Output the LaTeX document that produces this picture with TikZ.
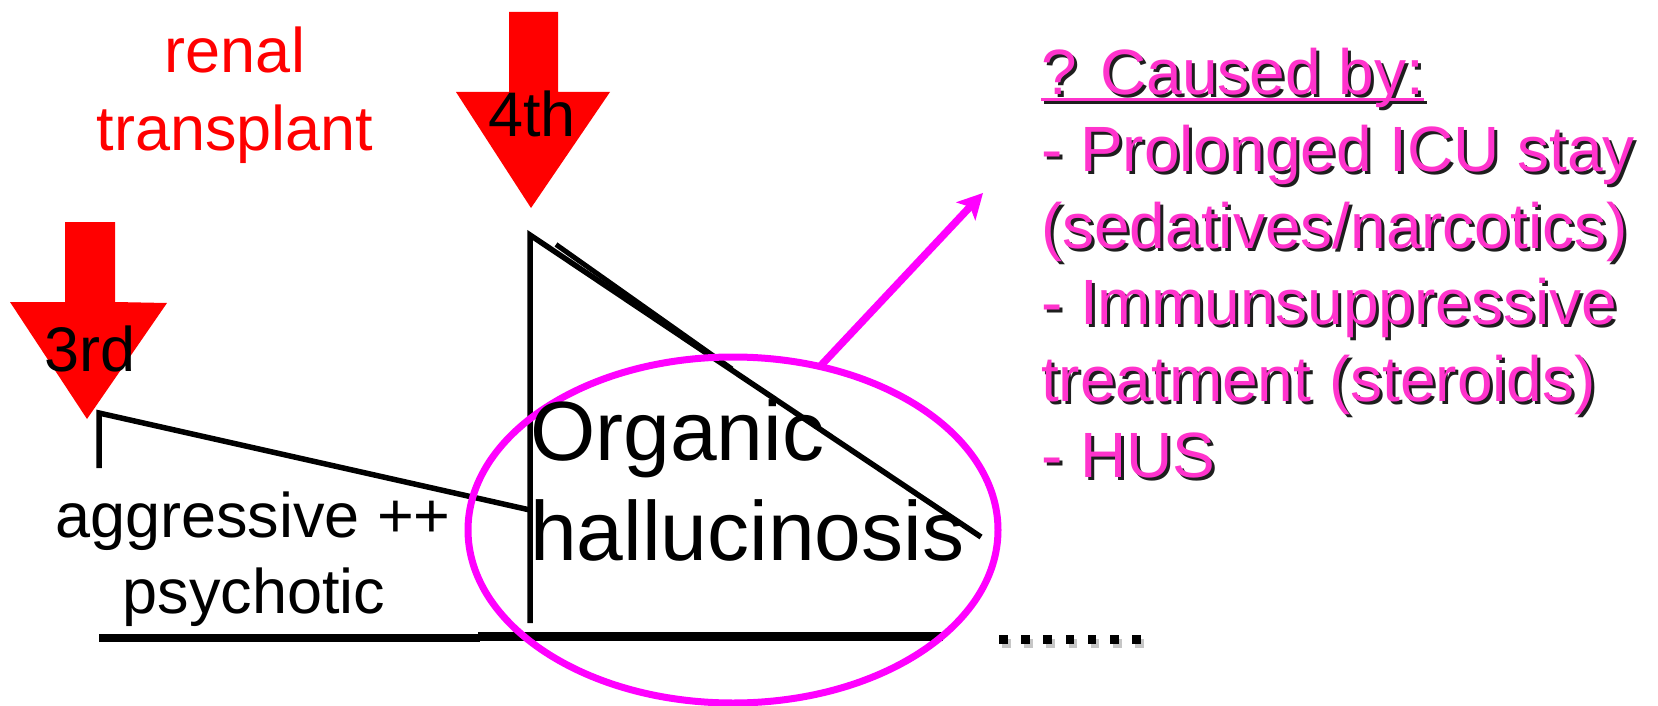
\documentclass[tikz,border=0pt]{standalone}
\usepackage{fontspec}
\setmainfont{Liberation Sans}
\usetikzlibrary{arrows.meta,shapes.geometric}
\definecolor{redA}{RGB}{255,0,0}
\definecolor{magA}{RGB}{255,0,255}
\definecolor{pinkT}{RGB}{255,51,204}
\definecolor{shadowT}{RGB}{30,30,30}
\newcommand\mkul[1]{\setbox0\hbox{#1}\rlap{\rule[-6pt]{\wd0}{3pt}}\box0}
\begin{document}
\begin{tikzpicture}[x=1pt,y=-1pt,
  lbl/.style={inner sep=0pt, outer sep=0pt, font=\fontsize{63}{76}\selectfont},
  rlbl/.style={inner sep=0pt, outer sep=0pt, font=\fontsize{64}{76}\selectfont},
  bigtext/.style={inner sep=0pt, outer sep=0pt, font=\fontsize{84}{102}\selectfont, anchor=base west},
  thinline/.style={line width=5.5pt, black, line join=miter},
  thickline/.style={line width=8.5pt, black},
  blockarrow/.style={fill=redA, draw=none},
  cause/.style={rlbl, anchor=base west, text=pinkT},
  causeshadow/.style={rlbl, anchor=base west, text=shadowT},
]
\useasboundingbox (0,0) rectangle (1658,706);
\fill[white] (0,0) rectangle (1658,706);

% red block arrows
\fill[blockarrow] (509,12) -- (558,12) -- (558,92) -- (610,92) -- (531,208) -- (456,92) -- (509,92) -- cycle;
\fill[blockarrow] (65,222) -- (115,222) -- (115,302) -- (167,303) -- (87,419) -- (10,302) -- (65,302) -- cycle;

% labels on arrows
\node[lbl, anchor=base] (fourth) at (532,137) {4th};
\node[lbl, anchor=base] (third) at (90,371) {3rd};

% renal transplant
\node[lbl, anchor=base, text=redA] (renal) at (235,73) {renal};
\node[lbl, anchor=base, text=redA] (transplant) at (235,151) {transplant};

% course lines
\coordinate (a0) at (99,468);
\coordinate (a1) at (99,413);
\coordinate (b0) at (530,623);
\coordinate (b1) at (530,235);
\coordinate (b2) at (981,537);
\draw[thinline] (a0) -- (a1) -- (530,510);
\draw[thinline] (b0) -- (b1) -- (b2);
\draw[line width=5pt, black] (556,244.5) -- (732,369);

% baseline
\draw[thickline] (99,638) -- (480,638);
\draw[thickline] (478,636.5) -- (943,636.5);

% dots
\foreach \i in {0,...,6} {
  \fill[gray!45] (1002+22.2*\i,639) rectangle +(8.5,8.5);
  \fill[black] (999+22.2*\i,635) rectangle +(8.5,8.5);
}

% aggressive psychotic
\node[lbl, anchor=base] (aggr) at (253,537) {aggressive ++};
\node[lbl, anchor=base] (psych) at (254,613) {psychotic};

% ellipse
\node[draw=magA, line width=7pt, ellipse, minimum width=530pt, minimum height=346pt, inner sep=0pt, outer sep=0pt] (oval) at (733,530) {};

% organic hallucinosis
\node[bigtext] (organic) at (530,460) {Organic};
\node[bigtext] (halluc) at (530,560) {hallucinosis};

% magenta arrow
\coordinate (tipc) at (983,193);
\draw[magA, line width=7.5pt, -{Stealth[length=25pt,width=26pt,inset=6pt]}] (oval.62) -- (tipc);

% caused by text with shadow
\node[causeshadow] (c1s) at (1044,98) {\mkul{? Caused by:}};
\node[cause] (c1) at (1041,95) {\mkul{? Caused by:}};
\node[causeshadow] (c2s) at (1044,174.6) {- Prolonged ICU stay};
\node[cause] (c2) at (1041,171.6) {- Prolonged ICU stay};
\node[causeshadow] (c3s) at (1044,251.2) {(sedatives/narcotics)};
\node[cause] (c3) at (1041,248.2) {(sedatives/narcotics)};
\node[causeshadow] (c4s) at (1044,327.8) {- Immunsuppressive};
\node[cause] (c4) at (1041,324.8) {- Immunsuppressive};
\node[causeshadow] (c5s) at (1044,404.4) {treatment (steroids)};
\node[cause] (c5) at (1041,401.4) {treatment (steroids)};
\node[causeshadow] (c6s) at (1044,480) {- HUS};
\node[cause] (c6) at (1041,477) {- HUS};
\end{tikzpicture}
\end{document}
